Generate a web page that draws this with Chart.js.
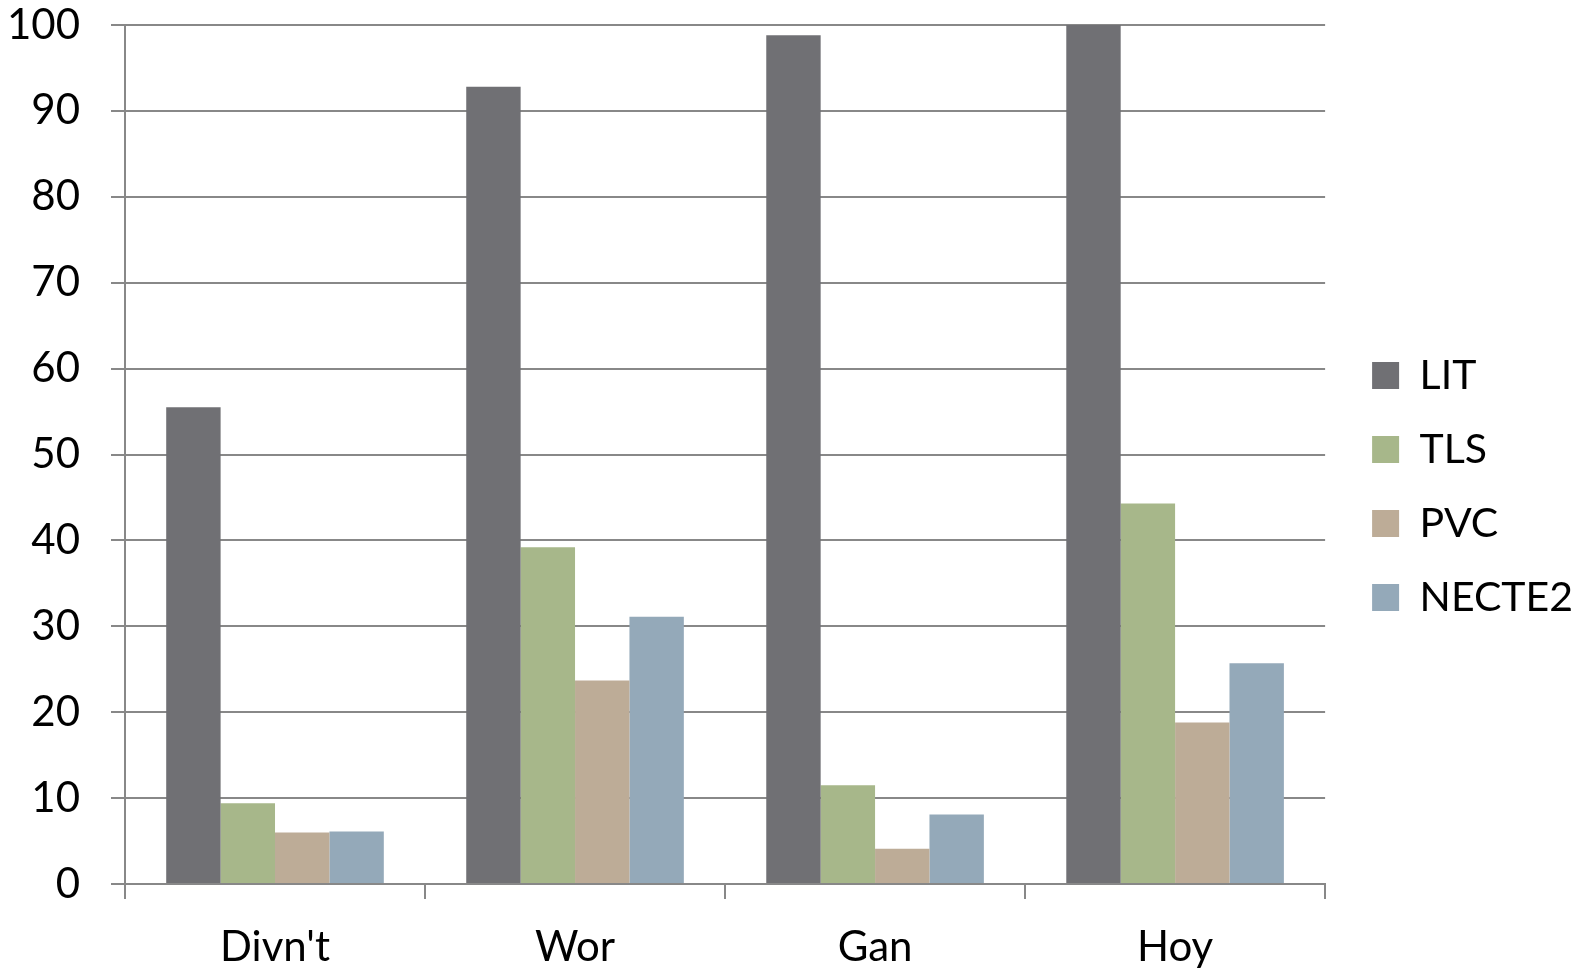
<!DOCTYPE html>
<html>
<head>
<meta charset="utf-8">
<script src="https://cdn.jsdelivr.net/npm/chart.js@4"></script>
<style>
html,body{margin:0;padding:0;background:#ffffff;}
#wrap{width:1575px;height:971px;position:relative;}
</style>
</head>
<body>
<div id="wrap"><canvas id="c" width="1575" height="971"></canvas></div>
<script>
const categories = ["Divn't", "Wor", "Gan", "Hoy"];
const seriesNames = ["LIT", "TLS", "PVC", "NECTE2"];
const litValues = [55.5, 92.8, 98.8, 100];
const tlsValues = [9.4, 39.2, 11.5, 44.3];
const pvcValues = [6.0, 23.7, 4.1, 18.8];
const necte2Values = [6.1, 31.1, 8.1, 25.7];
const yTickValues = [0, 10, 20, 30, 40, 50, 60, 70, 80, 90, 100];
const seriesColors = ["#707074", "#a7b78a", "#bdac97", "#94a9b9"];

const gridColor = "#888888";
const fontFamily = "Lato, 'Liberation Sans', sans-serif";

const legendShift = {
  id: 'legendShift',
  afterLayout(chart) {
    const l = chart.legend;
    if (!l) return;
    l.left += 14; l.right += 14;
    l.top += 1; l.bottom += 1;
  }
};

function draw() {
  const ctx = document.getElementById('c').getContext('2d');
  new Chart(ctx, {
    type: 'bar',
    data: {
      labels: categories,
      datasets: [litValues, tlsValues, pvcValues, necte2Values].map((vals, i) => ({
        label: seriesNames[i],
        data: vals,
        backgroundColor: seriesColors[i],
        borderWidth: 0,
        categoryPercentage: 0.7253,
        barPercentage: 1.0
      }))
    },
    options: {
      responsive: false,
      animation: false,
      devicePixelRatio: 1,
      layout: { padding: { left: 0, right: 6, top: 0, bottom: 0 } },
      font: { family: fontFamily },
      plugins: {
        tooltip: { enabled: false },
        title: { display: false },
        legend: {
          display: true,
          position: 'right',
          align: 'center',
          labels: {
            boxWidth: 27,
            boxHeight: 27,
            padding: 33,
            color: '#000000',
            font: { family: fontFamily, size: 41 }
          }
        }
      },
      scales: {
        x: {
          offset: true,
          grid: {
            offset: true,
            drawOnChartArea: false,
            drawTicks: true,
            tickLength: 15,
            color: gridColor,
            lineWidth: 2
          },
          border: { display: true, color: gridColor, width: 2 },
          ticks: {
            color: '#000000',
            padding: 23,
            maxRotation: 0,
            font: { family: fontFamily, size: 42 }
          },
          afterFit(scale) { scale.height = 87; }
        },
        y: {
          min: 0,
          max: 100,
          afterBuildTicks(scale) { scale.ticks = yTickValues.map(v => ({ value: v })); },
          grid: {
            drawTicks: true,
            tickLength: 14,
            color: gridColor,
            lineWidth: 2
          },
          border: { display: true, color: gridColor, width: 2 },
          ticks: {
            color: '#000000',
            padding: 31,
            font: { family: fontFamily, size: 42 }
          },
          afterFit(scale) {
            scale.width = 125;
            scale.paddingTop = 25;
            scale.paddingBottom = 0;
          }
        }
      }
    },
    plugins: [legendShift]
  });
}

if (document.fonts && document.fonts.load) {
  document.fonts.load("42px Lato").then(draw, draw);
} else {
  draw();
}
</script>
</body>
</html>
